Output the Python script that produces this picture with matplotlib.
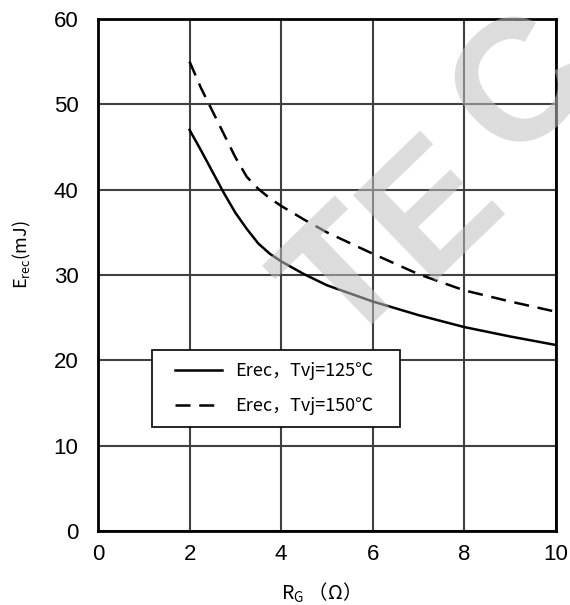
import numpy as np
import matplotlib.pyplot as plt
from matplotlib.patches import Rectangle

# gate resistance (ohm) and recovery energy (mJ)
rg = [2, 2.25, 2.5, 2.75, 3, 3.25, 3.5, 3.75, 4, 4.5, 5, 6, 7, 8, 9, 10]
erec_125 = [47.0, 44.6, 42.1, 39.6, 37.3, 35.4, 33.7, 32.5, 31.6, 30.1, 28.8, 26.9, 25.3, 23.9, 22.8, 21.8]
erec_150 = [55.0, 51.9, 49.2, 46.5, 43.8, 41.5, 40.1, 39.0, 38.1, 36.5, 35.0, 32.5, 30.1, 28.2, 26.9, 25.7]
labels = ['Erec，Tvj=125℃', 'Erec，Tvj=150℃']

xticks = [0, 2, 4, 6, 8, 10]
yticks = [0, 10, 20, 30, 40, 50, 60]

cjk = ['Noto Sans CJK SC', 'DejaVu Sans']

fig = plt.figure(figsize=(5.7, 6.05), dpi=100)
ax = fig.add_axes([0.172, 0.1223, 0.803, 0.8463])

ax.plot(rg, erec_125, color='black', lw=1.8, label=labels[0])
ax.plot(rg, erec_150, color='black', lw=1.8, dashes=(6, 3.5), label=labels[1])

ax.set_xlim(0, 10)
ax.set_ylim(0, 60)
ax.set_xticks(xticks)
ax.set_yticks(yticks)
ax.grid(True, color='#404040', lw=1.5)
ax.set_axisbelow(True)
for s in ax.spines.values():
    s.set_linewidth(2)
    s.set_color('black')
ax.tick_params(length=0, labelsize=16)
ax.tick_params(axis='y', pad=14)
ax.tick_params(axis='x', pad=9)
for t in ax.get_xticklabels() + ax.get_yticklabels():
    t.set_fontfamily('Liberation Sans')

ax.set_xlabel('R$_\\mathregular{G}$ （Ω）', fontsize=14, family=cjk)
ax.xaxis.set_label_coords(0.474, -0.097)
ax.set_ylabel('E$_\\mathregular{rec}$(mJ)', fontsize=13, family=cjk)
ax.yaxis.set_label_coords(-0.142, 0.54)

# legend box drawn separately (wider side padding than matplotlib allows)
ax.add_patch(Rectangle((0.118, 0.203), 0.541, 0.150, transform=ax.transAxes,
                       facecolor='white', edgecolor='black', lw=1.2, zorder=3))
ax.legend(loc='center left', bbox_to_anchor=(0.168, 0.278), borderaxespad=0,
          prop={'family': cjk, 'size': 13}, handlelength=2.6, frameon=False,
          labelspacing=0.95, borderpad=0, handletextpad=0.75).set_zorder(5)

# watermark, letters placed one by one (wide tracking)
for ch, (fx, fy) in zip('TEC', [(0.6, 0.42), (0.745, 0.535), (0.895, 0.731)]):
    fig.text(fx, fy, ch, fontsize=124, fontweight='bold', family='Liberation Sans',
             color='#c0c0c0', alpha=0.55, rotation=44, rotation_mode='anchor',
             ha='left', va='baseline', zorder=10)

fig.savefig('out.png', dpi=100)
